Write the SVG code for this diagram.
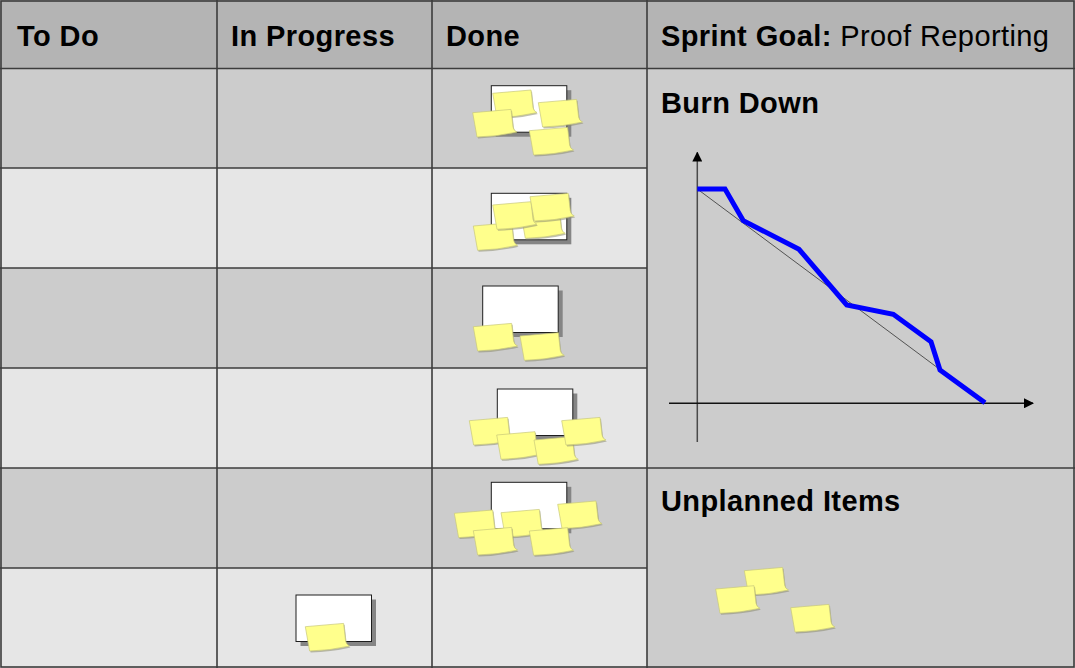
<svg xmlns="http://www.w3.org/2000/svg" xmlns:xlink="http://www.w3.org/1999/xlink" width="1075" height="668" viewBox="0 0 1075 668">
<style>
.hdr{fill:#b4b4b4}
.odd{fill:#cccccc}
.even{fill:#e6e6e6}
.grid{stroke:#3c3c3c;stroke-width:1.6;fill:none}
.t{font-family:"Liberation Sans",Arial,sans-serif;font-size:29px;fill:#000;letter-spacing:0.4px}
.b{font-weight:bold}
</style>
<defs>
<g id="card">
<rect x="4.5" y="4.5" width="75.5" height="46.5" fill="#858585"/>
<rect x="0" y="0" width="75.5" height="46.5" fill="#ffffff" stroke="#1e1e1e" stroke-width="1"/>
</g>
<path id="noteShape" d="M0,0 L38.3,-3.3 L40.3,14.3 Q41,18 44.3,19.3 Q24,24 4.3,24.3 Z"/>
<g id="note">
<use xlink:href="#noteShape" href="#noteShape" transform="translate(1,1.4)" fill="#8a8a70" opacity="0.55"/>
<use xlink:href="#noteShape" href="#noteShape" fill="#ffff8c" stroke="#c9c97a" stroke-width="0.7"/>
</g>
<marker id="arr" viewBox="0 0 10 10" refX="9" refY="5" markerWidth="10" markerHeight="10" markerUnits="userSpaceOnUse" orient="auto">
<path d="M0,0 L10,5 L0,10 Z" fill="#000"/>
</marker>
</defs>

<g id="background">
<rect class="hdr" x="0" y="0" width="1075" height="68"/>
<rect class="odd" x="0" y="68" width="647" height="100"/>
<rect class="even" x="0" y="168" width="647" height="100"/>
<rect class="odd" x="0" y="268" width="647" height="100"/>
<rect class="even" x="0" y="368" width="647" height="100"/>
<rect class="odd" x="0" y="468" width="647" height="100"/>
<rect class="even" x="0" y="568" width="647" height="100"/>
<rect class="odd" x="647" y="68" width="428" height="600"/>
</g>

<g id="grid-lines" class="grid">
<rect x="1" y="1" width="1073" height="666"/>
<line x1="0" y1="68.5" x2="1075" y2="68.5"/>
<line x1="217" y1="0" x2="217" y2="668"/>
<line x1="432" y1="0" x2="432" y2="668"/>
<line x1="647" y1="0" x2="647" y2="668"/>
<line x1="0" y1="168" x2="647" y2="168"/>
<line x1="0" y1="268" x2="647" y2="268"/>
<line x1="0" y1="368" x2="647" y2="368"/>
<line x1="0" y1="468" x2="1075" y2="468"/>
<line x1="0" y1="568" x2="647" y2="568"/>
</g>

<g id="header">
<text class="t b" x="17" y="46">To Do</text>
<text class="t b" x="231" y="46">In Progress</text>
<text class="t b" x="446" y="46">Done</text>
<text class="t" x="661" y="46"><tspan font-weight="bold">Sprint Goal:</tspan> Proof Reporting</text>
</g>

<g id="done-row1">
<use href="#card" x="491.3" y="85.7"/>
<use href="#note" x="492.7" y="93.3"/>
<use href="#note" x="472.7" y="112.7"/>
<use href="#note" x="538.3" y="102.7"/>
<use href="#note" x="529.3" y="130.7"/>
</g>

<g id="done-row2">
<use href="#card" x="491.3" y="193.3"/>
<use href="#note" x="521" y="214"/>
<use href="#note" x="473.3" y="226"/>
<use href="#note" x="492.7" y="205"/>
<use href="#note" x="530" y="196.7"/>
</g>

<g id="done-row3">
<use href="#card" x="482.7" y="286"/>
<use href="#note" x="473.3" y="326.7"/>
<use href="#note" x="520" y="336"/>
</g>

<g id="done-row4">
<use href="#card" x="497.3" y="389"/>
<use href="#note" x="469.3" y="420.7"/>
<use href="#note" x="496.7" y="435"/>
<use href="#note" x="534" y="440"/>
<use href="#note" x="561.7" y="420.7"/>
</g>

<g id="done-row5">
<use href="#card" x="491.3" y="482.3"/>
<use href="#note" x="454.3" y="513.3"/>
<use href="#note" x="501" y="512.7"/>
<use href="#note" x="557.7" y="504.3"/>
<use href="#note" x="473.3" y="530.7"/>
<use href="#note" x="529.3" y="531"/>
</g>

<g id="inprogress-row6">
<use href="#card" x="296" y="595"/>
<use href="#note" x="305.3" y="626.7"/>
</g>

<g id="burn-down">
<text class="t b" x="661" y="113">Burn Down</text>
<line x1="697.3" y1="442" x2="697.3" y2="152.5" stroke="#4a4a4a" stroke-width="1.5" marker-end="url(#arr)"/>
<line x1="669" y1="403.3" x2="1033" y2="403.3" stroke="#111" stroke-width="1.5" marker-end="url(#arr)"/>
<line x1="697.3" y1="189" x2="985" y2="403" stroke="#333" stroke-width="0.8"/>
<polyline points="697.3,189 725,189 743.3,220.7 799,249.3 846.7,305 893.3,314.3 931,341.7 940,370 985,402.7" fill="none" stroke="#0000ff" stroke-width="5" stroke-linejoin="miter"/>
</g>

<g id="unplanned-items">
<text class="t b" x="661" y="511">Unplanned Items</text>
<use href="#note" x="744.3" y="570.7"/>
<use href="#note" x="715.7" y="589"/>
<use href="#note" x="790.7" y="607.7"/>
</g>
</svg>
